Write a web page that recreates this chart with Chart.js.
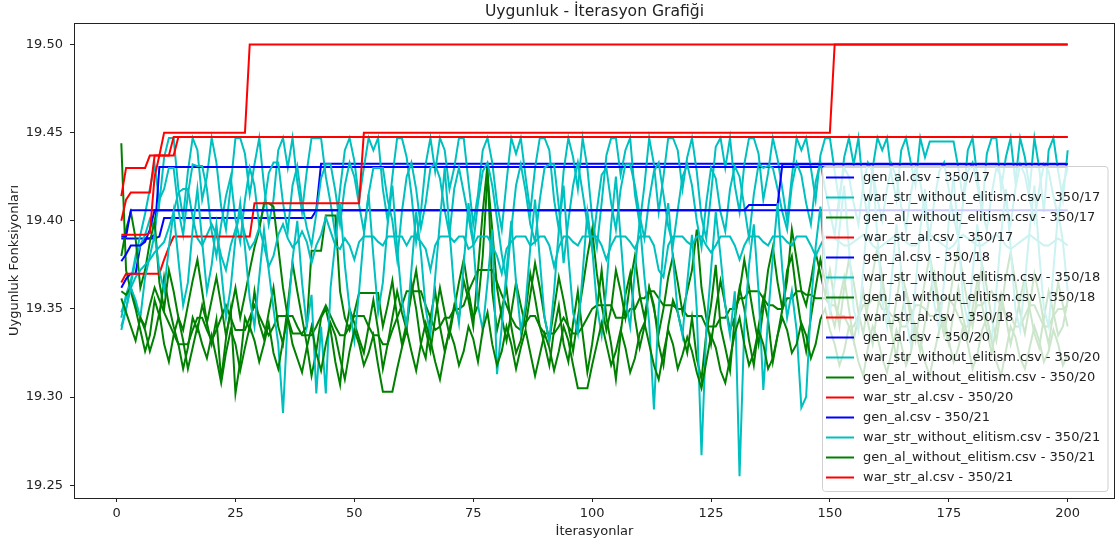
<!DOCTYPE html>
<html>
<head>
<meta charset="utf-8">
<script src="https://cdn.jsdelivr.net/npm/chart.js@4"></script>
<style>
html, body { margin: 0; padding: 0; background: #fff; }
canvas { display: block; }
</style>
</head>
<body>
<canvas id="chart" width="1120" height="547"></canvas>
<script>
// Uygunluk - İterasyon grafiği (16 seri, 200 iterasyon)

const iterations = Array.from({ length: 200 }, (_, i) => i + 1);
const xTicks = [0, 25, 50, 75, 100, 125, 150, 175, 200];
const yTicks = [19.25, 19.30, 19.35, 19.40, 19.45, 19.50];

// elitizmli seriler: [başlangıç iterasyonu, değer] basamakları
const genAl17Steps = [[1, 19.390], [9, 19.391], [10, 19.4015], [42, 19.406], [43, 19.4324]];
const genAl18Steps = [[1, 19.362], [2, 19.367], [3, 19.370], [5, 19.386], [6, 19.390], [8, 19.392], [9, 19.4305]];
const genAl20Steps = [[1, 19.377], [2, 19.381], [3, 19.386], [6, 19.388], [7, 19.395], [8, 19.406], [133, 19.409], [140, 19.432]];
const genAl21Steps = [[1, 19.391], [3, 19.406]];

const warStrAl17Steps = [[1, 19.414], [2, 19.43], [7, 19.437], [10, 19.45], [28, 19.50]];
const warStrAl18Steps = [[1, 19.40], [2, 19.412], [3, 19.416], [8, 19.437], [12, 19.4475]];
const warStrAl20Steps = [[1, 19.365], [2, 19.37], [10, 19.378], [11, 19.385], [12, 19.391], [29, 19.41], [52, 19.45], [151, 19.50]];
const warStrAl21Steps = [[1, 19.392], [7, 19.393], [8, 19.425], [9, 19.437], [13, 19.4475]];

// elitizmsiz seriler (her iterasyon için okunan değerler)
const warStrWoe17 = [
19.345,19.358,19.366,19.380,19.392,19.404,19.418,19.432,19.410,19.436,
19.447,19.447,19.418,19.402,19.428,19.447,19.440,19.412,19.425,19.447,
19.433,19.408,19.395,19.420,19.447,19.447,19.438,19.415,19.432,19.447,
19.420,19.398,19.412,19.440,19.447,19.430,19.447,19.422,19.405,19.428,
19.447,19.447,19.447,19.425,19.410,19.392,19.418,19.440,19.447,19.434,
19.412,19.430,19.447,19.440,19.447,19.418,19.400,19.425,19.447,19.447,
19.436,19.415,19.388,19.405,19.432,19.447,19.428,19.447,19.440,19.418,
19.430,19.447,19.447,19.422,19.398,19.415,19.440,19.447,19.433,19.410,
19.395,19.422,19.447,19.438,19.447,19.425,19.405,19.430,19.447,19.447,
19.440,19.412,19.395,19.428,19.447,19.436,19.418,19.447,19.430,19.402,
19.385,19.410,19.437,19.447,19.447,19.426,19.440,19.447,19.415,19.398,
19.420,19.447,19.432,19.405,19.425,19.447,19.447,19.440,19.418,19.436,
19.447,19.428,19.402,19.390,19.415,19.442,19.447,19.430,19.447,19.420,
19.405,19.432,19.447,19.447,19.438,19.412,19.427,19.447,19.435,19.418,
19.400,19.425,19.447,19.440,19.447,19.430,19.412,19.437,19.447,19.447,
19.428,19.410,19.436,19.447,19.432,19.447,19.418,19.400,19.430,19.447,
19.440,19.447,19.425,19.412,19.440,19.447,19.433,19.420,19.447,19.436,
19.445,19.445,19.445,19.445,19.445,19.445,19.430,19.412,19.440,19.447,
19.425,19.405,19.438,19.447,19.447,19.418,19.436,19.447,19.422,19.447,
19.436,19.418,19.447,19.430,19.405,19.440,19.447,19.428,19.412,19.440
];
const warStrWoe18 = [
19.340,19.350,19.364,19.378,19.386,19.392,19.401,19.395,19.412,19.418,
19.430,19.430,19.406,19.392,19.415,19.432,19.431,19.431,19.418,19.394,
19.380,19.398,19.414,19.425,19.401,19.388,19.412,19.430,19.420,19.397,
19.408,19.427,19.433,19.433,19.410,19.394,19.420,19.431,19.410,19.396,
19.386,19.404,19.424,19.432,19.432,19.417,19.398,19.420,19.433,19.425,
19.409,19.394,19.415,19.430,19.430,19.430,19.412,19.400,19.378,19.405,
19.425,19.433,19.418,19.396,19.410,19.430,19.432,19.424,19.406,19.392,
19.418,19.430,19.416,19.402,19.387,19.410,19.428,19.433,19.420,19.401,
19.381,19.366,19.395,19.420,19.432,19.417,19.398,19.388,19.412,19.430,
19.432,19.432,19.408,19.376,19.400,19.420,19.433,19.416,19.398,19.384,
19.406,19.426,19.430,19.410,19.395,19.418,19.432,19.432,19.420,19.403,
19.390,19.412,19.428,19.433,19.415,19.397,19.386,19.406,19.425,19.432,
19.420,19.400,19.385,19.410,19.430,19.424,19.405,19.394,19.418,19.431,
19.425,19.408,19.390,19.415,19.432,19.430,19.431,19.430,19.418,19.405,
19.395,19.420,19.433,19.426,19.410,19.398,19.422,19.433,19.418,19.405,
19.392,19.415,19.430,19.425,19.410,19.398,19.420,19.433,19.428,19.412,
19.400,19.418,19.432,19.424,19.408,19.395,19.415,19.430,19.422,19.405,
19.392,19.412,19.428,19.433,19.418,19.402,19.390,19.410,19.428,19.433,
19.420,19.405,19.395,19.415,19.430,19.425,19.410,19.398,19.418,19.432,
19.426,19.412,19.400,19.418,19.432,19.428,19.414,19.402,19.420,19.430
];
const warStrWoe20 = [
19.348,19.356,19.362,19.368,19.372,19.375,19.378,19.382,19.385,19.388,
19.396,19.405,19.416,19.418,19.418,19.402,19.390,19.386,19.392,19.398,
19.392,19.380,19.372,19.386,19.395,19.404,19.392,19.384,19.388,19.396,
19.386,19.374,19.380,19.392,19.398,19.390,19.385,19.388,19.394,19.388,
19.376,19.386,19.392,19.402,19.394,19.386,19.384,19.390,19.386,19.378,
19.388,19.391,19.391,19.391,19.388,19.386,19.391,19.391,19.391,19.391,
19.386,19.391,19.391,19.388,19.384,19.372,19.386,19.391,19.391,19.391,
19.388,19.391,19.391,19.384,19.386,19.391,19.391,19.391,19.386,19.380,
19.370,19.384,19.388,19.391,19.391,19.391,19.386,19.388,19.391,19.391,
19.386,19.374,19.385,19.391,19.391,19.388,19.386,19.391,19.391,19.391,
19.391,19.386,19.378,19.386,19.391,19.391,19.391,19.388,19.384,19.391,
19.391,19.391,19.386,19.372,19.368,19.386,19.391,19.391,19.391,19.388,
19.386,19.391,19.391,19.386,19.382,19.386,19.391,19.391,19.391,19.386,
19.378,19.386,19.391,19.391,19.391,19.388,19.386,19.391,19.391,19.391,
19.388,19.386,19.391,19.391,19.391,19.386,19.380,19.386,19.391,19.391,
19.390,19.388,19.386,19.386,19.388,19.390,19.392,19.390,19.386,19.384,
19.386,19.388,19.390,19.392,19.390,19.388,19.386,19.386,19.388,19.390,
19.392,19.390,19.388,19.386,19.384,19.386,19.390,19.392,19.390,19.388,
19.386,19.386,19.388,19.390,19.392,19.390,19.386,19.384,19.386,19.388,
19.390,19.392,19.390,19.388,19.386,19.386,19.388,19.390,19.388,19.386
];
const warStrWoe21 = [
19.338,19.350,19.362,19.355,19.345,19.368,19.380,19.392,19.372,19.360,
19.385,19.405,19.378,19.352,19.365,19.395,19.418,19.388,19.360,19.375,
19.398,19.372,19.345,19.362,19.390,19.410,19.385,19.356,19.340,19.368,
19.395,19.372,19.350,19.330,19.291,19.345,19.378,19.400,19.365,19.340,
19.358,19.302,19.340,19.302,19.362,19.388,19.410,19.375,19.350,19.332,
19.360,19.392,19.415,19.380,19.348,19.365,19.398,19.420,19.385,19.355,
19.340,19.372,19.405,19.382,19.350,19.335,19.368,19.400,19.430,19.395,
19.360,19.342,19.375,19.410,19.388,19.352,19.338,19.365,19.395,19.313,
19.340,19.372,19.400,19.365,19.338,19.352,19.385,19.412,19.378,19.345,
19.332,19.360,19.395,19.420,19.380,19.348,19.336,19.370,19.405,19.385,
19.352,19.335,19.362,19.398,19.425,19.390,19.355,19.340,19.372,19.400,
19.368,19.342,19.293,19.350,19.385,19.410,19.378,19.348,19.335,19.365,
19.392,19.350,19.267,19.338,19.372,19.405,19.380,19.352,19.335,19.360,
19.255,19.340,19.375,19.398,19.360,19.304,19.345,19.380,19.410,19.372,
19.345,19.360,19.338,19.294,19.300,19.352,19.385,19.408,19.375,19.348,
19.365,19.395,19.420,19.385,19.350,19.338,19.372,19.405,19.430,19.390,
19.355,19.340,19.368,19.398,19.372,19.345,19.330,19.362,19.395,19.418,
19.380,19.352,19.338,19.365,19.400,19.425,19.390,19.356,19.342,19.370,
19.398,19.372,19.345,19.332,19.360,19.392,19.418,19.385,19.350,19.338,
19.365,19.395,19.420,19.382,19.350,19.340,19.372,19.405,19.388,19.360
];

const genAlWoe17 = [
19.444,19.372,19.360,19.350,19.338,19.326,19.335,19.355,19.346,19.368,
19.352,19.340,19.330,19.316,19.328,19.345,19.338,19.352,19.342,19.330,
19.344,19.310,19.333,19.350,19.302,19.320,19.345,19.338,19.360,19.342,
19.333,19.348,19.362,19.340,19.330,19.352,19.376,19.360,19.345,19.330,
19.312,19.326,19.345,19.350,19.338,19.320,19.307,19.335,19.350,19.342,
19.333,19.325,19.340,19.355,19.338,19.316,19.330,19.345,19.360,19.348,
19.338,19.365,19.350,19.330,19.322,19.345,19.360,19.340,19.326,19.338,
19.352,19.345,19.366,19.355,19.340,19.372,19.405,19.432,19.360,19.338,
19.350,19.362,19.340,19.325,19.332,19.348,19.370,19.356,19.340,19.330,
19.318,19.338,19.352,19.330,19.320,19.342,19.360,19.336,19.314,19.330,
19.350,19.372,19.345,19.330,19.310,19.336,19.358,19.370,19.345,19.328,
19.340,19.362,19.352,19.330,19.318,19.340,19.355,19.348,19.336,19.325,
19.345,19.322,19.310,19.336,19.352,19.375,19.340,19.328,19.315,19.345,
19.362,19.350,19.332,19.318,19.340,19.356,19.344,19.320,19.335,19.350,
19.372,19.380,19.358,19.340,19.326,19.345,19.362,19.378,19.366,19.350,
19.340,19.355,19.368,19.350,19.332,19.346,19.360,19.342,19.330,19.350,
19.365,19.348,19.336,19.322,19.345,19.360,19.350,19.338,19.326,19.342,
19.358,19.370,19.352,19.340,19.330,19.348,19.362,19.345,19.334,19.350,
19.366,19.352,19.338,19.325,19.340,19.358,19.345,19.330,19.342,19.356,
19.368,19.350,19.336,19.328,19.345,19.360,19.348,19.335,19.340,19.355
];
const genAlWoe18 = [
19.380,19.395,19.405,19.390,19.362,19.372,19.388,19.400,19.365,19.350,
19.372,19.360,19.345,19.338,19.352,19.366,19.378,19.360,19.342,19.355,
19.368,19.352,19.335,19.348,19.362,19.345,19.358,19.372,19.385,19.395,
19.410,19.410,19.408,19.385,19.362,19.345,19.336,19.336,19.336,19.340,
19.383,19.383,19.383,19.403,19.403,19.403,19.360,19.345,19.338,19.348,
19.359,19.359,19.359,19.359,19.359,19.340,19.352,19.366,19.345,19.330,
19.342,19.358,19.372,19.352,19.338,19.326,19.345,19.362,19.348,19.335,
19.350,19.365,19.378,19.360,19.345,19.352,19.380,19.425,19.395,19.362,
19.345,19.332,19.348,19.365,19.352,19.340,19.358,19.376,19.362,19.345,
19.332,19.350,19.368,19.355,19.340,19.326,19.345,19.362,19.380,19.395,
19.370,19.352,19.338,19.350,19.372,19.360,19.345,19.365,19.380,19.358,
19.345,19.362,19.350,19.336,19.350,19.368,19.380,19.365,19.348,19.360,
19.372,19.395,19.362,19.345,19.330,19.350,19.366,19.352,19.338,19.345,
19.360,19.378,19.362,19.345,19.330,19.350,19.372,19.385,19.365,19.350,
19.366,19.395,19.378,19.360,19.352,19.366,19.382,19.370,19.358,19.372,
19.355,19.340,19.362,19.378,19.365,19.348,19.336,19.352,19.370,19.385,
19.368,19.350,19.338,19.355,19.372,19.360,19.345,19.332,19.350,19.366,
19.380,19.365,19.348,19.335,19.352,19.370,19.385,19.368,19.352,19.340,
19.358,19.375,19.362,19.345,19.332,19.350,19.368,19.382,19.365,19.348,
19.336,19.352,19.370,19.358,19.342,19.330,19.348,19.365,19.352,19.340
];
const genAlWoe20 = [
19.360,19.358,19.362,19.352,19.345,19.340,19.352,19.362,19.355,19.348,
19.342,19.336,19.330,19.330,19.330,19.338,19.345,19.345,19.338,19.332,
19.338,19.345,19.352,19.345,19.338,19.338,19.338,19.345,19.352,19.346,
19.340,19.335,19.340,19.346,19.346,19.346,19.346,19.340,19.335,19.335,
19.335,19.340,19.346,19.352,19.346,19.340,19.335,19.335,19.340,19.346,
19.346,19.346,19.340,19.335,19.335,19.330,19.330,19.338,19.345,19.352,
19.360,19.360,19.360,19.360,19.352,19.345,19.338,19.340,19.345,19.345,
19.350,19.350,19.352,19.360,19.366,19.372,19.372,19.372,19.372,19.365,
19.358,19.352,19.345,19.340,19.338,19.342,19.346,19.346,19.340,19.336,
19.336,19.336,19.340,19.345,19.340,19.336,19.336,19.340,19.345,19.350,
19.352,19.352,19.352,19.352,19.345,19.345,19.345,19.350,19.350,19.356,
19.356,19.360,19.360,19.356,19.352,19.352,19.352,19.350,19.350,19.346,
19.346,19.346,19.346,19.340,19.340,19.340,19.345,19.345,19.350,19.350,
19.356,19.356,19.360,19.360,19.360,19.356,19.352,19.352,19.350,19.350,
19.356,19.356,19.360,19.360,19.358,19.358,19.356,19.356,19.356,19.352,
19.352,19.346,19.346,19.340,19.340,19.346,19.352,19.352,19.356,19.356,
19.350,19.350,19.346,19.346,19.340,19.340,19.346,19.352,19.352,19.350,
19.346,19.346,19.352,19.356,19.356,19.352,19.346,19.340,19.340,19.346,
19.352,19.352,19.356,19.360,19.356,19.352,19.346,19.346,19.340,19.340,
19.346,19.352,19.352,19.346,19.340,19.340,19.346,19.350,19.350,19.352
];
const genAlWoe21 = [
19.356,19.348,19.340,19.332,19.345,19.338,19.326,19.335,19.348,19.330,
19.320,19.335,19.345,19.332,19.316,19.328,19.340,19.330,19.322,19.335,
19.322,19.308,19.325,19.338,19.330,19.315,19.328,19.340,19.332,19.320,
19.330,19.342,19.325,19.316,19.332,19.345,19.330,19.322,19.314,19.328,
19.340,19.325,19.315,19.330,19.342,19.335,19.322,19.310,19.326,19.338,
19.330,19.318,19.325,19.335,19.318,19.303,19.303,19.303,19.316,19.328,
19.338,19.326,19.315,19.330,19.342,19.332,19.320,19.310,19.325,19.338,
19.330,19.318,19.326,19.340,19.333,19.320,19.338,19.348,19.330,19.318,
19.326,19.340,19.330,19.316,19.328,19.338,19.325,19.312,19.324,19.336,
19.328,19.315,19.326,19.340,19.332,19.318,19.305,19.305,19.305,19.318,
19.330,19.342,19.330,19.318,19.326,19.338,19.328,19.314,19.322,19.336,
19.342,19.330,19.318,19.310,19.325,19.338,19.330,19.316,19.324,19.334,
19.326,19.314,19.305,19.320,19.335,19.328,19.315,19.308,19.322,19.336,
19.345,19.330,19.318,19.325,19.338,19.330,19.316,19.322,19.335,19.345,
19.338,19.325,19.330,19.342,19.335,19.322,19.330,19.344,19.350,19.338,
19.330,19.318,19.326,19.340,19.332,19.320,19.312,19.328,19.340,19.334,
19.322,19.314,19.326,19.338,19.330,19.318,19.325,19.340,19.332,19.320,
19.312,19.326,19.338,19.345,19.332,19.320,19.328,19.340,19.330,19.316,
19.324,19.338,19.345,19.332,19.320,19.312,19.326,19.340,19.334,19.322,
19.316,19.328,19.340,19.332,19.320,19.326,19.338,19.330,19.318,19.324
];

const runs = ['350/17', '350/18', '350/20', '350/21'];
const colors = { genAl: '#0000ff', warStrWoe: '#00bfbf', genAlWoe: '#008000', warStrAl: '#ff0000' };

const FONT = '"DejaVu Sans", sans-serif';

/**
 * Basamak listesini her iterasyon için değere açar.
 * @param {Array} steps - [başlangıç iterasyonu, değer] çiftleri.
 * @returns {number[]} Her iterasyon için değer.
 */
function expandSteps(steps) {
    return iterations.map(it => {
        let v = steps[0][1];
        steps.forEach(([start, val]) => { if (it >= start) v = val; });
        return v;
    });
}

const seriesByRun = [
    [expandSteps(genAl17Steps), warStrWoe17, genAlWoe17, expandSteps(warStrAl17Steps)],
    [expandSteps(genAl18Steps), warStrWoe18, genAlWoe18, expandSteps(warStrAl18Steps)],
    [expandSteps(genAl20Steps), warStrWoe20, genAlWoe20, expandSteps(warStrAl20Steps)],
    [expandSteps(genAl21Steps), warStrWoe21, genAlWoe21, expandSteps(warStrAl21Steps)]
];
const fileNames = ['gen_al.csv', 'war_str_without_elitism.csv', 'gen_al_without_elitism.csv', 'war_str_al.csv'];
const fileColors = [colors.genAl, colors.warStrWoe, colors.genAlWoe, colors.warStrAl];

const datasets = [];
runs.forEach((run, r) => {
    fileNames.forEach((name, f) => {
        const idx = datasets.length;
        datasets.push({
            label: `${name} - ${run}`,
            data: iterations.map((it, i) => ({ x: it, y: seriesByRun[r][f][i] })),
            borderColor: fileColors[f],
            backgroundColor: fileColors[f],
            borderWidth: 2,
            pointRadius: 0,
            tension: 0,
            fill: false,
            order: -idx // sonra eklenen üstte çizilsin
        });
    });
});

// Başlık, eksen etiketleri, çerçeve ve lejant
const decorPlugin = {
    id: 'decor',
    afterDraw(chart) {
        const { ctx, chartArea: a } = chart;
        ctx.save();

        // çerçeve
        ctx.strokeStyle = '#222';
        ctx.lineWidth = 1;
        ctx.strokeRect(a.left + 0.5, a.top + 0.5, a.right - a.left - 1, a.bottom - a.top);

        // başlık ve eksen adları
        ctx.fillStyle = '#222';
        ctx.textAlign = 'center';
        ctx.textBaseline = 'alphabetic';
        ctx.font = `15.6px ${FONT}`;
        ctx.fillText('Uygunluk - İterasyon Grafiği', (a.left + a.right) / 2, 16);
        ctx.font = `13px ${FONT}`;
        ctx.fillText('İterasyonlar', (a.left + a.right) / 2, 535);
        ctx.save();
        ctx.translate(18, (a.top + a.bottom) / 2);
        ctx.rotate(-Math.PI / 2);
        ctx.fillText('Uygunluk Fonksiyonları', 0, 0);
        ctx.restore();

        // lejant kutusu
        const lx = 822.5, ly = 166.5, lw = 285.5, lh = 325, rad = 3;
        ctx.beginPath();
        ctx.moveTo(lx + rad, ly);
        ctx.arcTo(lx + lw, ly, lx + lw, ly + lh, rad);
        ctx.arcTo(lx + lw, ly + lh, lx, ly + lh, rad);
        ctx.arcTo(lx, ly + lh, lx, ly, rad);
        ctx.arcTo(lx, ly, lx + lw, ly, rad);
        ctx.closePath();
        ctx.fillStyle = 'rgba(255,255,255,0.8)';
        ctx.fill();
        ctx.strokeStyle = '#d0d0d0';
        ctx.stroke();

        ctx.textAlign = 'left';
        ctx.textBaseline = 'middle';
        ctx.font = `13px ${FONT}`;
        chart.data.datasets.forEach((ds, i) => {
            const y = 177.5 + i * 20;
            ctx.beginPath();
            ctx.moveTo(826, y);
            ctx.lineTo(854, y);
            ctx.strokeStyle = ds.borderColor;
            ctx.lineWidth = 2;
            ctx.stroke();
            ctx.fillStyle = '#222';
            ctx.fillText(ds.label, 863, y + 0.5);
        });
        ctx.restore();
    }
};

const tickFont = { family: FONT, size: 13 };

new Chart(document.getElementById('chart'), {
    type: 'line',
    data: { datasets },
    options: {
        responsive: false,
        animation: false,
        devicePixelRatio: 1,
        layout: { padding: { top: 23, right: 5, left: 0, bottom: 0 } },
        plugins: { legend: { display: false }, title: { display: false }, tooltip: { enabled: false } },
        scales: {
            x: {
                type: 'linear',
                min: -8.95,
                max: 209.95,
                afterBuildTicks: axis => { axis.ticks = xTicks.map(v => ({ value: v })); },
                afterFit: axis => { axis.height = 49; },
                border: { display: false },
                grid: { drawOnChartArea: false, drawTicks: true, tickLength: 4, color: '#222', lineWidth: 1 },
                ticks: { font: tickFont, color: '#222', padding: 4, maxRotation: 0, autoSkip: false, callback: v => String(v) }
            },
            y: {
                type: 'linear',
                min: 19.2427,
                max: 19.5122,
                afterBuildTicks: axis => { axis.ticks = yTicks.map(v => ({ value: v })); },
                afterFit: axis => { axis.width = 74; },
                border: { display: false },
                grid: { drawOnChartArea: false, drawTicks: true, tickLength: 4, color: '#222', lineWidth: 1 },
                ticks: { font: tickFont, color: '#222', padding: 7, autoSkip: false, callback: v => v.toFixed(2) }
            }
        }
    },
    plugins: [decorPlugin]
});
</script>
</body>
</html>
